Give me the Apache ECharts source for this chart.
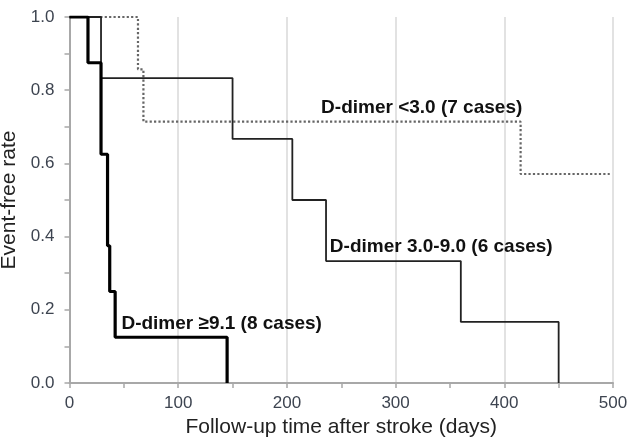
<!DOCTYPE html>
<html>
<head>
<meta charset="utf-8">
<script src="https://cdn.jsdelivr.net/npm/echarts@6/dist/echarts.min.js"></script>
<style>html,body{margin:0;padding:0;background:#fff}#c{width:630px;height:445px}</style>
</head>
<body>
<div id="c"></div>
<script>
// Kaplan-Meier points [days, event-free rate]; step drawn by the library
const lowGroup = [[0,1],[63,0.857],[68,0.714],[415,0.571],[497,0.571]];
const midGroup = [[0,1],[29,0.833],[150,0.667],[205,0.5],[236,0.333],[360,0.167],[450,0]];
const highGroup = [[0,1],[17,0.875],[29,0.625],[35,0.375],[37,0.25],[42,0.125],[145,0]];
const groupNames = ['D-dimer <3.0 (7 cases)','D-dimer 3.0-9.0 (6 cases)','D-dimer \u22659.1 (8 cases)'];
const labelAnchors = [[324,0.752],[342,0.372],[140,0.161]];
const xTicks = [0,100,200,300,400,500];
const yTicks = [0,0.2,0.4,0.6,0.8,1.0];

const chart = echarts.init(document.getElementById('c'));
const font = 'Liberation Sans, Arial, sans-serif';
function mk(i){
  return {
    symbol:'rect', symbolSize:1, silent:true,
    itemStyle:{color:'rgba(0,0,0,0)'},
    data:[{coord:labelAnchors[i]}],
    label:{show:true, position:'inside', formatter:groupNames[i], fontFamily:font,
      fontWeight:'bold', fontSize:19, color:'#111'}
  };
}
chart.setOption({
  animation:false,
  grid:{left:69.5, right:17, top:17, bottom:62, containLabel:false, outerBoundsMode:'none'},
  xAxis:{type:'value', min:xTicks[0], max:xTicks[xTicks.length-1], interval:100,
    name:'Follow-up time after stroke (days)', nameLocation:'middle', nameGap:32,
    nameTextStyle:{fontFamily:font, fontSize:21, color:'#222'},
    axisLine:{show:true, lineStyle:{color:'#a8a8a8', width:2}},
    axisTick:{show:true, length:5, lineStyle:{color:'#a8a8a8', width:1.5}},
    minorTick:{show:true, splitNumber:2, length:5, lineStyle:{color:'#a8a8a8', width:1.5}},
    axisLabel:{fontFamily:font, fontSize:17, color:'#3d4450', margin:12},
    splitLine:{show:true, lineStyle:{color:'#d8d8d8', width:1.5}}
  },
  yAxis:{type:'value', min:yTicks[0], max:yTicks[yTicks.length-1], interval:0.2,
    name:'Event-free rate', nameLocation:'middle', nameGap:49,
    nameTextStyle:{fontFamily:font, fontSize:21, color:'#222'},
    axisLine:{show:true, lineStyle:{color:'#a8a8a8', width:2}},
    axisTick:{show:true, length:5, lineStyle:{color:'#a8a8a8', width:1.5}},
    minorTick:{show:true, splitNumber:2, length:5, lineStyle:{color:'#a8a8a8', width:1.5}},
    axisLabel:{fontFamily:font, fontSize:17, color:'#3d4450', margin:15,
      formatter:v=>v.toFixed(1)},
    splitLine:{show:false}
  },
  series:[
    {name:groupNames[0], type:'line', step:'end', data:lowGroup, symbol:'none',
      lineStyle:{color:'#666', width:2.2, type:'dotted'}, z:2, markPoint:mk(0)},
    {name:groupNames[1], type:'line', step:'end', data:midGroup, symbol:'none',
      lineStyle:{color:'#222', width:1.8}, z:3, markPoint:mk(1)},
    {name:groupNames[2], type:'line', step:'end', data:highGroup, symbol:'none',
      lineStyle:{color:'#000', width:3.2}, z:4, markPoint:mk(2)}
  ]
});
</script>
</body>
</html>
